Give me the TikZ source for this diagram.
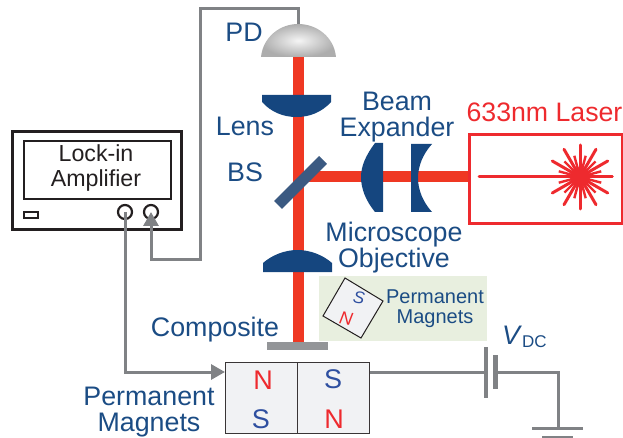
\documentclass[tikz,border=0pt]{standalone}
\usepackage{fontspec}
\setmainfont{Liberation Sans}
\usetikzlibrary{arrows.meta}
\definecolor{beam}{HTML}{EF3823}
\definecolor{lensblue}{HTML}{15467F}
\definecolor{txtblue}{HTML}{1B4C84}
\definecolor{bsblue}{HTML}{3B5A82}
\definecolor{wire}{HTML}{808285}
\definecolor{plate}{HTML}{939598}
\definecolor{greenbg}{HTML}{E8EFDF}
\definecolor{magfill}{HTML}{F1F2F4}
\definecolor{lasered}{HTML}{EE2A2E}
\definecolor{magblue}{HTML}{2E4FA0}
\definecolor{boxk}{HTML}{231F20}
\newcommand{\fs}[1]{\fontsize{#1}{#1}\selectfont}
\tikzset{
 lbl/.style={inner sep=0pt,anchor=base,text=txtblue,font=\fs{26.8}},
 blk/.style={inner sep=0pt,anchor=base,text=boxk,font=\fs{23.2}},
 wireline/.style={draw=wire,line width=3pt,line join=miter},
 beamline/.style={draw=beam,line width=11pt},
 opt/.style={fill=lensblue,draw=none},
 pole/.style={inner sep=0pt,font=\fs{27}},
 tip/.style={-{Triangle[length=14pt,width=15pt]}},
}
\begin{document}
\begin{tikzpicture}[x=1pt,y=-1pt]
\useasboundingbox (0,0) rectangle (623,438);
% beams
\coordinate (bt) at (298,57); \coordinate (bb) at (298,342);
\coordinate (bc) at (298,177); \coordinate (br) at (468,177);
\draw[beamline] (bt) -- (bb);
\draw[beamline] (bc) -- (br);
% PD
\shade[inner color=white!92!gray, outer color=black!32, shading=radial]
  (261,57) .. controls (263,37) and (280,24) .. (298,24) .. controls (317,24) and (334,37) .. (336,57) -- cycle;
\coordinate (pdtop) at (298,24);
% lenses
\path[opt] (262,95) -- (331,95) -- (331,102) .. controls (322,112) and (310,117) .. (296.5,117) .. controls (283,117) and (271,112) .. (262,102) -- cycle;
\path[opt] (263,272) -- (332,272) -- (332,263) .. controls (323,255) and (310,250) .. (297.5,250) .. controls (285,250) and (272,255) .. (263,263) -- cycle;
% BS
\draw[bsblue,line width=11pt] (278,205) -- (323,160);
% expander
\path[opt] (383,143) -- (375,143) .. controls (366,155) and (361,166) .. (361,177) .. controls (361,189) and (366,201) .. (375,212) -- (383,212) -- cycle;
\path[opt] (411,144) -- (432,144) .. controls (423,154) and (418,166) .. (418,178) .. controls (418,190) and (423,202) .. (432,212) -- (411,212) -- cycle;
% laser
\node[draw=lasered,line width=3.2pt,minimum width=153pt,minimum height=89pt,inner sep=0pt,anchor=north west] (laser) at (468,133) {};
\coordinate (ls) at (479,177); \coordinate (le) at (612,177); \coordinate (burst) at (580,177);
\draw[lasered,line width=3pt,line cap=round] (ls) -- (le);
\fill[lasered] (burst) circle (10);
\foreach \a in {0,30,...,330}{\draw[lasered,line width=3pt,line cap=round] (burst) -- ++(\a:32);}
\foreach \a in {15,45,...,345}{\draw[lasered,line width=2.4pt] (burst) -- ++(\a:22);}
\node[lbl,text=lasered,font=\fs{26.7}] (lasertxt) at (544.5,122) {633nm Laser};
% composite
\node[fill=plate,minimum width=61pt,minimum height=8pt,inner sep=0pt] (comp) at (297.5,346) {};
% inset
\node[fill=greenbg,minimum width=168pt,minimum height=65pt,inner sep=0pt,anchor=north west] (inset) at (319,276) {};
\draw[boxk,line width=1pt,fill=magfill] (345,278) -- (383,301) -- (361,338) -- (323,316) -- cycle;
\node[inner sep=0pt,text=magblue,font=\fs{17}\itshape,rotate=-10] (s0) at (359,298) {S};
\node[inner sep=0pt,text=lasered,font=\fs{18}\itshape,rotate=-10] (n0) at (346,319) {N};
\node[lbl,font=\fs{20}] (pm1) at (435,303) {Permanent};
\node[lbl,font=\fs{20}] (pm2) at (435,323) {Magnets};
% magnets
\node[draw=boxk!90,line width=1.4pt,fill=magfill,minimum width=72pt,minimum height=71pt,inner sep=0pt,anchor=north west] (magl) at (225,362) {};
\node[draw=boxk!90,line width=1.4pt,fill=magfill,minimum width=72pt,minimum height=71pt,inner sep=0pt,anchor=north west] (magr) at (297,362) {};
\node[pole,text=lasered] (n1) at (263,380) {N};
\node[pole,text=magblue] (s1) at (333,379) {S};
\node[pole,text=magblue] (s2) at (261,419) {S};
\node[pole,text=lasered] (n2) at (334,419) {N};
% amp
\node[draw=boxk,line width=3.4pt,minimum width=169pt,minimum height=98pt,inner sep=0pt,anchor=north west] (amp) at (11,130) {};
\node[draw=boxk,line width=2pt,minimum width=147pt,minimum height=58pt,inner sep=0pt,anchor=north west] (screen) at (23,140) {};
\node[draw=boxk,line width=2pt,minimum width=14pt,minimum height=6pt,inner sep=0pt,anchor=north west] (led) at (23,211) {};
\node[draw=boxk,circle,line width=2.2pt,minimum size=14pt,inner sep=0pt] (p1) at (125,212) {};
\node[draw=boxk,circle,line width=2.2pt,minimum size=14pt,inner sep=0pt] (p2) at (151,212) {};
\node[blk] (lock) at (96,162) {Lock-in};
\node[blk] (ampl) at (96,187) {Amplifier};
% wires
\coordinate (w1) at (298,9); \coordinate (w2) at (200,9); \coordinate (w3) at (200,259); \coordinate (w4) at (151,259);
\coordinate (w5) at (125,372);
\draw[wireline,tip] (pdtop) -- (w1) -- (w2) -- (w3) -- (w4) -- (p2.center);
\draw[wireline,tip] (p1.center) -- (w5) -- (magl.west |- w5);
% battery
\coordinate (bl1) at (486,347); \coordinate (bl2) at (486,398);
\coordinate (bs1) at (495.5,355); \coordinate (bs2) at (495.5,389);
\draw[wire,line width=3.4pt] (bl1) -- (bl2);
\draw[wire,line width=5pt] (bs1) -- (bs2);
\draw[wireline] (magr.east |- 0,372) -- (486,372);
\coordinate (g0) at (558,372); \coordinate (g1) at (558,428);
\draw[wireline] (495.5,372) -- (g0) -- (g1);
\coordinate (ga) at (532,428); \coordinate (gb) at (583,428); \coordinate (gc) at (542,437); \coordinate (gd) at (573,437);
\draw[wire,line width=3pt] (ga) -- (gb);
\draw[wire,line width=3pt] (gc) -- (gd);
% labels
\node[lbl] (pd) at (244,42) {PD};
\node[lbl] (lens) at (245,136) {Lens};
\node[lbl] (bstxt) at (245,182) {BS};
\node[lbl] (beamtxt) at (397,111) {Beam};
\node[lbl] (exp) at (397,137) {Expander};
\node[lbl] (mic) at (394,241) {Microscope};
\node[lbl] (obj) at (394,267) {Objective};
\node[lbl] (comptxt) at (215,336) {Composite};
\node[lbl] (pb1) at (149,405) {Permanent};
\node[lbl] (pb2) at (149,431) {Magnets};
\node[lbl,anchor=base west] (vdc) at (502,344) {\textit{V}\raisebox{-3pt}{\fs{17}DC}};
\end{tikzpicture}
\end{document}
